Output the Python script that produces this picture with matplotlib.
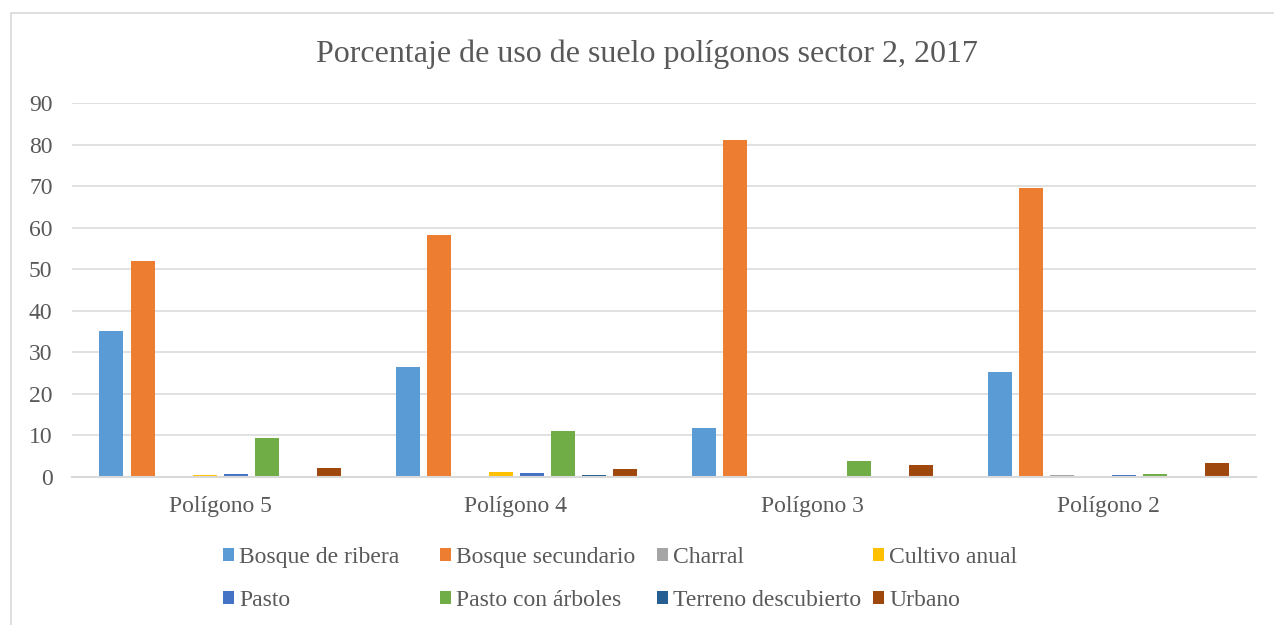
import matplotlib
matplotlib.use("Agg")
import matplotlib.pyplot as plt
from matplotlib.patches import Rectangle, Patch
import numpy as np

categories = ["Polígono 5", "Polígono 4", "Polígono 3", "Polígono 2"]
series_names = ["Bosque de ribera", "Bosque secundario", "Charral", "Cultivo anual",
                "Pasto", "Pasto con árboles", "Terreno descubierto", "Urbano"]
bosque_ribera = [35.1, 26.3, 11.8, 25.3]
bosque_secundario = [52.0, 58.2, 81.0, 69.5]
charral = [0.0, 0.0, 0.0, 0.4]
cultivo_anual = [0.4, 1.2, 0.0, 0.0]
pasto = [0.7, 0.9, 0.2, 0.4]
pasto_arboles = [9.3, 11.0, 3.9, 0.7]
terreno_descubierto = [0.0, 0.4, 0.0, 0.0]
urbano = [2.0, 1.8, 2.8, 3.2]
y_ticks = [0, 10, 20, 30, 40, 50, 60, 70, 80, 90]

series_values = [bosque_ribera, bosque_secundario, charral, cultivo_anual,
                 pasto, pasto_arboles, terreno_descubierto, urbano]
colors = ["#5B9BD5", "#ED7D31", "#A5A5A5", "#FFC000",
          "#4472C4", "#70AD47", "#255E91", "#9E480E"]

text_color = "#595959"
grid_color = "#D9D9D9"
serif = ['Liberation Serif', 'DejaVu Serif']
plt.rcParams['font.family'] = serif

W, H = 1274, 625
fig = plt.figure(figsize=(W / 100, H / 100), dpi=100)

# outer chart border
fig.patches.append(Rectangle((11 / W, -0.05), 1.1, 1 - 13 / H + 0.05,
                             transform=fig.transFigure, fill=False,
                             edgecolor=grid_color, linewidth=1.2))

ax = fig.add_axes([72 / W, 1 - 476.7 / H, (1256 - 72) / W, (476.7 - 103) / H])

x = np.arange(len(categories))
pitch = 31 / 296
bw = 24 / 296
n = len(series_values)
for i, (vals, col, name) in enumerate(zip(series_values, colors, series_names)):
    off = (i - (n - 1) / 2) * pitch
    ax.bar(x + off, vals, width=bw, color=col, label=name, zorder=3)

ax.set_xlim(-0.5, len(categories) - 0.5)
ax.set_ylim(0, 90)
ax.set_yticks(y_ticks)
ax.set_xticks(x)
ax.set_xticklabels(categories)
ax.tick_params(axis='both', length=0, labelsize=17, labelcolor=text_color)
ax.tick_params(axis='y', pad=14)
ax.tick_params(axis='x', pad=14)
ax.grid(axis='y', color=grid_color, linewidth=1.1, zorder=0)
for s in ["top", "right", "left"]:
    ax.spines[s].set_visible(False)
ax.spines["bottom"].set_color(grid_color)
ax.spines["bottom"].set_linewidth(1.5)
ax.spines["bottom"].set_zorder(4)

fig.text(647 / W, 1 - 54 / H, "Porcentaje de uso de suelo polígonos sector 2, 2017",
         ha='center', va='center', fontsize=23, color=text_color)

# legend: 4 columns with uniform width, 2 rows
col_x = [223, 440, 657, 873]
for c in range(4):
    idxs = [c, c + 4]
    handles = [Patch(facecolor=colors[k], edgecolor='none') for k in idxs]
    labels = [series_names[k] for k in idxs]
    leg = fig.legend(handles, labels, loc='upper left',
                     bbox_to_anchor=(col_x[c] / W, 1 - 547 / H),
                     frameon=False, prop={'family': serif, 'size': 17},
                     handlelength=0.46, handleheight=0.46, handletextpad=0.22,
                     labelspacing=0.92, borderpad=0, borderaxespad=0)
    for t in leg.get_texts():
        t.set_color(text_color)

fig.savefig("out.png", dpi=100)
